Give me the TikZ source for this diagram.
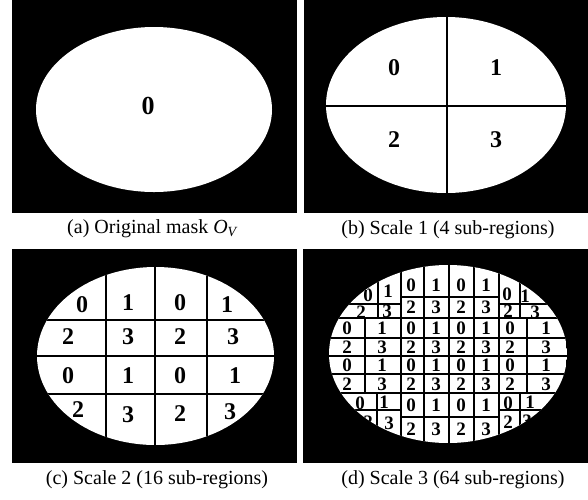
\documentclass[tikz,border=0pt]{standalone}
\usepackage{fontspec}
\setmainfont{Liberation Serif}
\begin{document}
\begin{tikzpicture}[x=1pt, y=-1pt,
    cut/.style={line width=1.5pt},
    thincut/.style={line width=1.4pt},
    num/.style={font=\bfseries\fontsize{#1}{#1}\selectfont, inner sep=0pt},
    caption/.style={font=\fontsize{20}{20}\selectfont, inner sep=0pt}]

  \useasboundingbox[fill=white] (0,0) rectangle (588,499);

  % (a) original mask
  \fill (12,0) rectangle (297,213);
  \fill[white] (154,109.5) ellipse [x radius=118, y radius=82.5];
  \node[num=26] (a0) at (148,106) {0};
  \node[caption] (capa) at (152,229) {(a) Original mask \textit{O\textsubscript{V}}};

  % (b) scale 1
  \fill (304,0) rectangle (588,213);
  \begin{scope}
    \clip (446,105) ellipse [x radius=120, y radius=88];
    \fill[white] (326,17) rectangle (566,193);
    \draw[cut] (447,17) -- (447,193) (326,106) -- (566,106);
  \end{scope}
  \foreach \d/\x/\y in {0/394/68, 1/496/68, 2/394/140, 3/496/140}
    \node[num=24] (b\d) at (\x,\y) {\d};
  \node[caption] (capb) at (448,230) {(b) Scale 1 (4 sub-regions)};

  % (c) scale 2
  \fill (12,249) rectangle (297,463);
  \begin{scope}
    \clip (155.5,356) ellipse [x radius=118.5, y radius=89];
    \fill[white] (37,267) rectangle (274,445);
    \foreach \x in {106,155,207}
      \draw[cut] (\x,267) -- (\x,445);
    \foreach \y in {320,356,394}
      \draw[cut] (37,\y) -- (274,\y);
  \end{scope}
  \foreach \r/\c/\x/\y in {0/0/82/305, 0/1/128/303, 0/2/180/303, 0/3/227/305,
      1/0/68/337, 1/1/128/337, 1/2/180/337, 1/3/233/337,
      2/0/68/376, 2/1/128/376, 2/2/180/376, 2/3/235/376,
      3/0/78/410, 3/1/128/415, 3/2/180/414, 3/3/230/412} {
    \pgfmathtruncatemacro\d{2*mod(\r,2)+mod(\c,2)}
    \node[num=24] (c\r\c) at (\x,\y) {\d};
  }
  \node[caption] (capc) at (157,480) {(c) Scale 2 (16 sub-regions)};

  % (d) scale 3
  \fill (303,249) rectangle (588,463);
  \begin{scope}
    \clip (448,354) ellipse [x radius=119, y radius=89];
    \fill[white] (329,265) rectangle (567,443);
    \foreach \x in {401,424,449,474,499}
      \draw[thincut] (\x,265) -- (\x,443);
    \foreach \y in {318,338,356,374,393}
      \draw[thincut] (329,\y) -- (567,\y);
    \foreach \y in {297,417}
      \draw[thincut] (401,\y) -- (499,\y);
    \foreach \x in {365,527}
      \draw[thincut] (\x,318) -- (\x,393);
    % corner cells
    \draw[thincut] (378,265) -- (378,318) (329,304) -- (401,304);
    \draw[thincut] (520,265) -- (520,318) (499,304) -- (567,304);
    \draw[thincut] (377,393) -- (377,443) (329,410) -- (401,410);
    \draw[thincut] (520,393) -- (520,443) (499,410) -- (567,410);
    \foreach \r/\c/\x/\y in {0/0/368/295, 0/1/388/291, 1/0/361/312, 1/1/387/311,
        0/6/507/294, 0/7/525/296, 1/6/508/311, 1/7/535/312,
        6/0/360/403, 6/1/384/402, 7/0/368/422, 7/1/389/423,
        6/6/508/403, 6/7/530/402, 7/6/508/422, 7/7/527/421} {
      \pgfmathtruncatemacro\d{2*mod(\r,2)+mod(\c,2)}
      \node[num=19] (d\r\c) at (\x,\y) {\d};
    }
  \end{scope}
  \foreach \r/\y in {0/285, 1/307, 2/328, 3/347, 4/365, 5/384, 6/405, 7/429}
    \foreach \c/\x in {2/411, 3/436, 4/461, 5/486} {
      \pgfmathtruncatemacro\d{2*mod(\r,2)+mod(\c,2)}
      \node[num=19] (d\r\c) at (\x,\y) {\d};
    }
  \foreach \r/\y in {2/328, 3/347, 4/365, 5/384}
    \foreach \c/\x in {0/347, 1/382, 6/510, 7/546} {
      \pgfmathtruncatemacro\d{2*mod(\r,2)+mod(\c,2)}
      \node[num=19] (d\r\c) at (\x,\y) {\d};
    }
  \node[caption] (capd) at (453,480) {(d) Scale 3 (64 sub-regions)};
\end{tikzpicture}
\end{document}
